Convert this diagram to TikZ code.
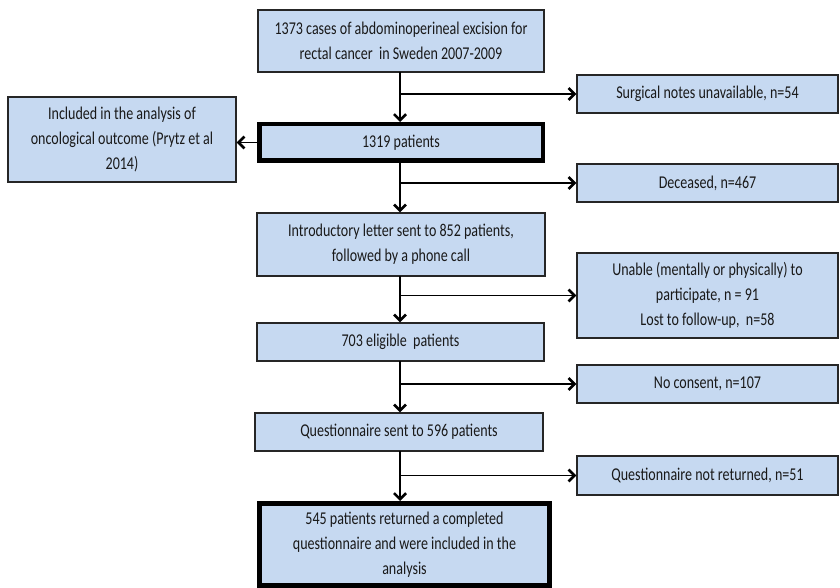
\documentclass[tikz,border=0pt]{standalone}
\usepackage{fontspec}
\setmainfont{Carlito}[FakeStretch=0.78]
\usetikzlibrary{arrows.meta}
\definecolor{boxfill}{HTML}{C6D9F1}
\definecolor{linegray}{HTML}{3A3A3A}
\tikzset{
  box/.style={draw=black!85, line width=1.3pt, fill=boxfill, align=center,
    inner sep=0pt, font=\fontsize{18}{25}\selectfont, text=black!90},
  thickbox/.style={box, line width=4.5pt, draw=black},
  arr/.style={draw=linegray, line width=1.4pt,
    -{Straight Barb[length=6pt,width=12pt,line width=2.6pt]}, black}
}
\begin{document}
\begin{tikzpicture}[x=1pt,y=-1pt]
\useasboundingbox (0,0) rectangle (840,588);
% main column
\node[box, minimum width=286pt, minimum height=62pt] (b1) at (401,41)
  {1373 cases of abdominoperineal excision for\\rectal cancer\ \ in Sweden 2007-2009};
\node[thickbox, minimum width=283.5pt, minimum height=36.5pt] (b2) at (401,142.5)
  {1319 patients};
\node[box, minimum width=288pt, minimum height=63pt] (b3) at (401,244.5)
  {Introductory letter sent to 852 patients,\\followed by a phone call};
\node[box, minimum width=287pt, minimum height=38pt] (b4) at (400.5,342)
  {703 eligible\ \ patients};
\node[box, minimum width=288pt, minimum height=38pt] (b5) at (399,432)
  {Questionnaire sent to 596 patients};
\node[thickbox, line width=5pt, minimum width=290pt, minimum height=82pt] (b6) at (404.5,544.5)
  {545 patients returned a completed\\questionnaire and were included in the\\analysis};
% left
\node[box, minimum width=228pt, minimum height=85pt] (left) at (122,139.5)
  {Included in the analysis of\\oncological outcome (Prytz et al\\2014)};
% side boxes
\node[box, minimum width=261pt, minimum height=38pt] (s1) at (707.5,94)
  {Surgical notes unavailable, n=54};
\node[box, minimum width=261pt, minimum height=38pt] (s2) at (707.5,183)
  {Deceased, n=467};
\node[box, minimum width=261pt, minimum height=85pt] (s3) at (707.5,295.5)
  {Unable (mentally or physically) to\\participate, n = 91\\Lost to follow-up,\ \ n=58};
\node[box, minimum width=261pt, minimum height=38pt] (s4) at (707.5,384)
  {No consent, n=107};
\node[box, minimum width=261pt, minimum height=39pt] (s5) at (707.5,475.5)
  {Questionnaire not returned, n=51};
% trunk coordinates
\coordinate (t1) at (400,72);
\coordinate (t2) at (400,163);
\coordinate (t3) at (400,276);
\coordinate (t4) at (400,361);
\coordinate (t5) at (400,451);
% connectors
\draw[arr] (t1) -- (t1 |- b2.north);
\draw[arr] (t1 |- s1.west) -- (s1.west);
\draw[arr] (b2.west) -- (b2.west -| left.east);
\draw[arr] (t2) -- (t2 |- b3.north);
\draw[arr] (t2 |- s2.west) -- (s2.west);
\draw[arr] (t3) -- (t3 |- b4.north);
\draw[arr] (t3 |- s3.west) -- (s3.west);
\draw[arr] (t4) -- (t4 |- b5.north);
\draw[arr] (t4 |- s4.west) -- (s4.west);
\draw[arr] (t5) -- (t5 |- b6.north);
\draw[arr] (t5 |- s5.west) -- (s5.west);
\end{tikzpicture}
\end{document}
